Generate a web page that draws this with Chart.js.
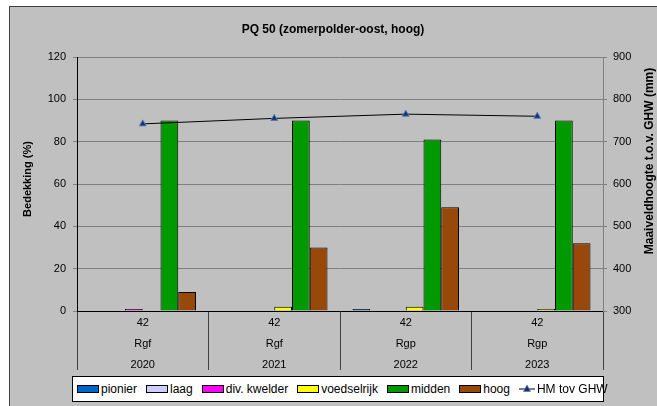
<!DOCTYPE html>
<html>
<head>
<meta charset="utf-8">
<script src="https://cdn.jsdelivr.net/npm/chart.js@4/dist/chart.umd.min.js"></script>
<style>
  html, body { margin: 0; padding: 0; background: #fff; }
  body { width: 657px; height: 406px; position: relative; overflow: hidden; font-family: "Liberation Sans", Arial, sans-serif; }
  #frame { position: absolute; left: 9px; top: 6px; right: 0; bottom: 0; background: #c0c0c0; border-left: 1px solid #404040; border-top: 1px solid #404040; }
  #chart { position: absolute; left: 0; top: 0; }
  #legend { position: absolute; left: 72px; top: 376px; width: 532px; height: 26px; background: #fff; border: 1px solid #000;
            display: flex; align-items: center; padding-left: 4px; box-sizing: border-box; font-size: 12px; color: #000; }
  .item { display: flex; align-items: center; margin-right: 9px; white-space: nowrap; }
  .swatch { width: 20px; height: 6px; border: 1px solid #000; margin-right: 2px; }
</style>
</head>
<body>
<div id="frame"></div>
<canvas id="chart" width="657" height="406"></canvas>
<div id="legend"></div>
<script>
// Categories (multi-row axis labels: count, code, year)
const years = ['2020', '2021', '2022', '2023'];
const codes = ['Rgf', 'Rgf', 'Rgp', 'Rgp'];
const counts = ['42', '42', '42', '42'];

// Cover per vegetation zone (%)
const pionier = [0, 0, 1, 0];
const laag = [0, 0, 0, 0];
const kwelder = [1, 0, 0, 0];
const voedselrijk = [0, 2, 2, 1];
const midden = [90, 90, 81, 90];
const hoog = [9, 30, 49, 32];

// Surface height relative to GHW (mm)
const hmGhw = [742, 755, 765, 760];

const barNames = ['pionier', 'laag', 'div. kwelder', 'voedselrijk', 'midden', 'hoog'];
const barColors = ['#0066cc', '#ccccff', '#ff00ff', '#ffff00', '#009900', '#984808'];
const barValues = [pionier, laag, kwelder, voedselrijk, midden, hoog];
const lineName = 'HM tov GHW';

const FONT = '"Liberation Sans", Arial, sans-serif';

// Build datasets
const datasets = barNames.map((name, i) => ({
    type: 'bar',
    label: name,
    data: barValues[i],
    backgroundColor: barColors[i],
    borderColor: '#000',
    borderWidth: 1,
    yAxisID: 'y',
    order: 1,
    categoryPercentage: 0.81,
    barPercentage: 1.0
}));

datasets.push({
    type: 'line',
    label: lineName,
    data: hmGhw,
    borderColor: '#000',
    borderWidth: 1,
    tension: 0,
    pointStyle: 'triangle',
    pointRadius: 4,
    pointBackgroundColor: '#1f2f5f',
    pointBorderColor: '#4f7fc0',
    pointBorderWidth: 1,
    yAxisID: 'y2',
    order: 0
});

// Rotated axis titles (right one reads bottom to top as in the original)
const axisTitles = {
    id: 'axisTitles',
    afterDraw(chart) {
        const ctx = chart.ctx;
        ctx.save();
        ctx.fillStyle = '#000';
        ctx.font = 'bold 11px ' + FONT;
        ctx.textAlign = 'center';
        ctx.textBaseline = 'middle';
        ctx.translate(28, 179);
        ctx.rotate(-Math.PI / 2);
        ctx.fillText('Bedekking (%)', 0, 0);
        ctx.restore();

        ctx.save();
        ctx.fillStyle = '#000';
        ctx.font = 'bold 12px ' + FONT;
        ctx.textAlign = 'center';
        ctx.textBaseline = 'middle';
        ctx.translate(650, 161);
        ctx.rotate(-Math.PI / 2);
        ctx.fillText('Maaiveldhoogte t.o.v. GHW (mm)', 0, 0);
        ctx.restore();
    }
};

const ctx = document.getElementById('chart').getContext('2d');
new Chart(ctx, {
    data: {
        labels: years.map((y, i) => [counts[i], codes[i], y]),
        datasets: datasets
    },
    options: {
        responsive: false,
        animation: false,
        devicePixelRatio: 1,
        layout: { padding: { left: 9, top: 22, right: 0, bottom: 35 } },
        plugins: {
            legend: { display: false },
            tooltip: { enabled: false },
            title: {
                display: true,
                text: 'PQ 50 (zomerpolder-oost, hoog)',
                color: '#000',
                font: { family: FONT, size: 12, weight: 'bold' },
                padding: { top: 0, bottom: 20.6 }
            }
        },
        scales: {
            x: {
                type: 'category',
                offset: true,
                grid: { offset: true, drawOnChartArea: false, tickLength: 59, color: '#404040' },
                border: { color: '#000' },
                ticks: {
                    color: '#000',
                    font: { family: FONT, size: 11, lineHeight: '21px' },
                    padding: -57.5,
                    maxRotation: 0,
                    autoSkip: false
                },
                afterFit(s) { s.height = 60; s.paddingLeft = 0; s.paddingRight = 0; }
            },
            y: {
                position: 'left',
                min: 0,
                max: 120,
                ticks: { stepSize: 20, color: '#000', padding: 7, font: { family: FONT, size: 11 } },
                grid: { color: '#808080', tickLength: 4 },
                border: { color: '#000' },
                afterFit(s) { s.width = 68; s.paddingTop = 0; s.paddingBottom = 0; }
            },
            y2: {
                position: 'right',
                min: 300,
                max: 900,
                ticks: { stepSize: 100, color: '#000', padding: 6, font: { family: FONT, size: 11 } },
                grid: { drawOnChartArea: false, color: '#808080', tickLength: 4 },
                border: { color: '#808080' },
                afterFit(s) { s.width = 54; s.paddingTop = 0; s.paddingBottom = 0; }
            }
        }
    },
    plugins: [axisTitles]
});

// Legend built from the same series lists
const legend = document.getElementById('legend');
barNames.forEach((name, i) => {
    const item = document.createElement('span');
    item.className = 'item';
    item.innerHTML = `<span class="swatch" style="background:${barColors[i]}"></span>${name}`;
    legend.appendChild(item);
});
const lineItem = document.createElement('span');
lineItem.className = 'item';
lineItem.innerHTML = '<svg width="16" height="10" style="margin-right:2px"><line x1="0" y1="5" x2="16" y2="5" stroke="#000" stroke-width="1"/>' +
    '<polygon points="8,1 11.5,7.5 4.5,7.5" fill="#1f2f5f" stroke="#4f7fc0" stroke-width="0.7"/></svg>' + lineName;
legend.appendChild(lineItem);
</script>
</body>
</html>
